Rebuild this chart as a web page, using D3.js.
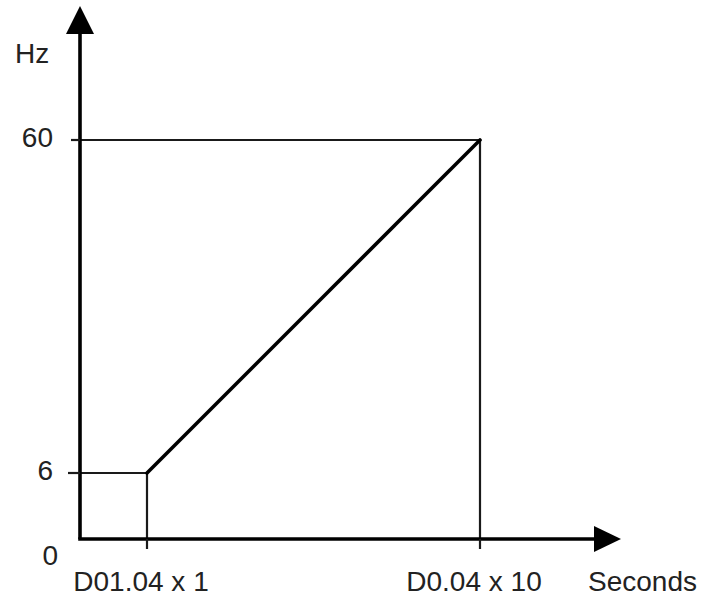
<!DOCTYPE html>
<html>
<head>
<meta charset="utf-8">
<script src="https://cdn.jsdelivr.net/npm/d3@7"></script>
<style>
  body { margin: 0; background: #fff; }
  text { font-family: "Liberation Sans", Arial, sans-serif; font-size: 28px; fill: #222; }
</style>
</head>
<body>
<div id="chart"></div>
<script>

// x positions (schematic, seconds) and frequency values
const timeStops   = [0, 1, 10];
const hzStops     = [0, 6, 60];
const xTickValues = [1, 10];
const xTickLabels = ["D01.04 x 1", "D0.04 x 10"];
const yTickValues = [6, 60];
const yTickLabels = ["6", "60"];
const rampTime    = [0, 1, 10];
const rampHz      = [6, 6, 60];

const width = 709, height = 600;
const origin = { x: 80, y: 539 };

const svg = d3.select("#chart")
  .append("svg")
  .attr("width", width)
  .attr("height", height);

// the picture is not to scale, so use piecewise scales
const x = d3.scaleLinear().domain(timeStops).range([origin.x, 147, 480]);
const y = d3.scaleLinear().domain(hzStops).range([origin.y, 473, 140]);

// guide lines
const line = d3.line().x(d => x(d[0])).y(d => y(d[1]));

// 60 Hz box (top and right side)
svg.append("path")
  .attr("d", line([[0, 60], [10, 60], [10, 0]]))
  .attr("fill", "none").attr("stroke", "#1a1a1a").attr("stroke-width", 2.2);

// 6 Hz box
svg.append("path")
  .attr("d", line([[0, 6], [1, 6], [1, 0]]))
  .attr("fill", "none").attr("stroke", "#1a1a1a").attr("stroke-width", 2.2);

// ramp
const ramp = rampTime.map((t, i) => [t, rampHz[i]]).slice(1);
svg.append("path")
  .attr("d", line(ramp))
  .attr("fill", "none").attr("stroke", "#000").attr("stroke-width", 3.6)
  .attr("stroke-linecap", "round");

// axes
svg.append("line")
  .attr("x1", origin.x - 1.8).attr("y1", origin.y)
  .attr("x2", 600).attr("y2", origin.y)
  .attr("stroke", "#000").attr("stroke-width", 3.6);

svg.append("line")
  .attr("x1", origin.x).attr("y1", origin.y)
  .attr("x2", origin.x).attr("y2", 28)
  .attr("stroke", "#000").attr("stroke-width", 3.6);

// arrow heads
svg.append("path")
  .attr("d", `M${origin.x},6 L${origin.x + 14},34 L${origin.x - 14},34 Z`)
  .attr("fill", "#000");

svg.append("path")
  .attr("d", `M621,${origin.y} L594,${origin.y - 13} L594,${origin.y + 13} Z`)
  .attr("fill", "#000");

// ticks
svg.selectAll(".xtick")
  .data(xTickValues)
  .join("line")
  .attr("class", "xtick")
  .attr("x1", d => x(d)).attr("x2", d => x(d))
  .attr("y1", origin.y).attr("y2", origin.y + 10)
  .attr("stroke", "#1a1a1a").attr("stroke-width", 2.2);

svg.selectAll(".ytick")
  .data(yTickValues)
  .join("line")
  .attr("class", "ytick")
  .attr("x1", (d, i) => i === 0 ? 68 : 71).attr("x2", origin.x)
  .attr("y1", d => y(d)).attr("y2", d => y(d))
  .attr("stroke", "#1a1a1a").attr("stroke-width", 2.2);

// labels
svg.selectAll(".xlabel")
  .data(xTickValues)
  .join("text")
  .attr("class", "xlabel")
  .attr("x", d => x(d) - 6)
  .attr("y", 591)
  .attr("text-anchor", "middle")
  .text((d, i) => xTickLabels[i]);

svg.selectAll(".ylabel")
  .data(yTickValues)
  .join("text")
  .attr("class", "ylabel")
  .attr("x", 53)
  .attr("y", d => y(d) - 3)
  .attr("dy", "0.35em")
  .attr("text-anchor", "end")
  .text((d, i) => yTickLabels[i]);

svg.append("text")
  .attr("x", 58).attr("y", 565)
  .attr("text-anchor", "end")
  .text("0");

svg.append("text")
  .attr("x", 15).attr("y", 63)
  .text("Hz");

svg.append("text")
  .attr("x", 588).attr("y", 591)
  .text("Seconds");

</script>
</body>
</html>
